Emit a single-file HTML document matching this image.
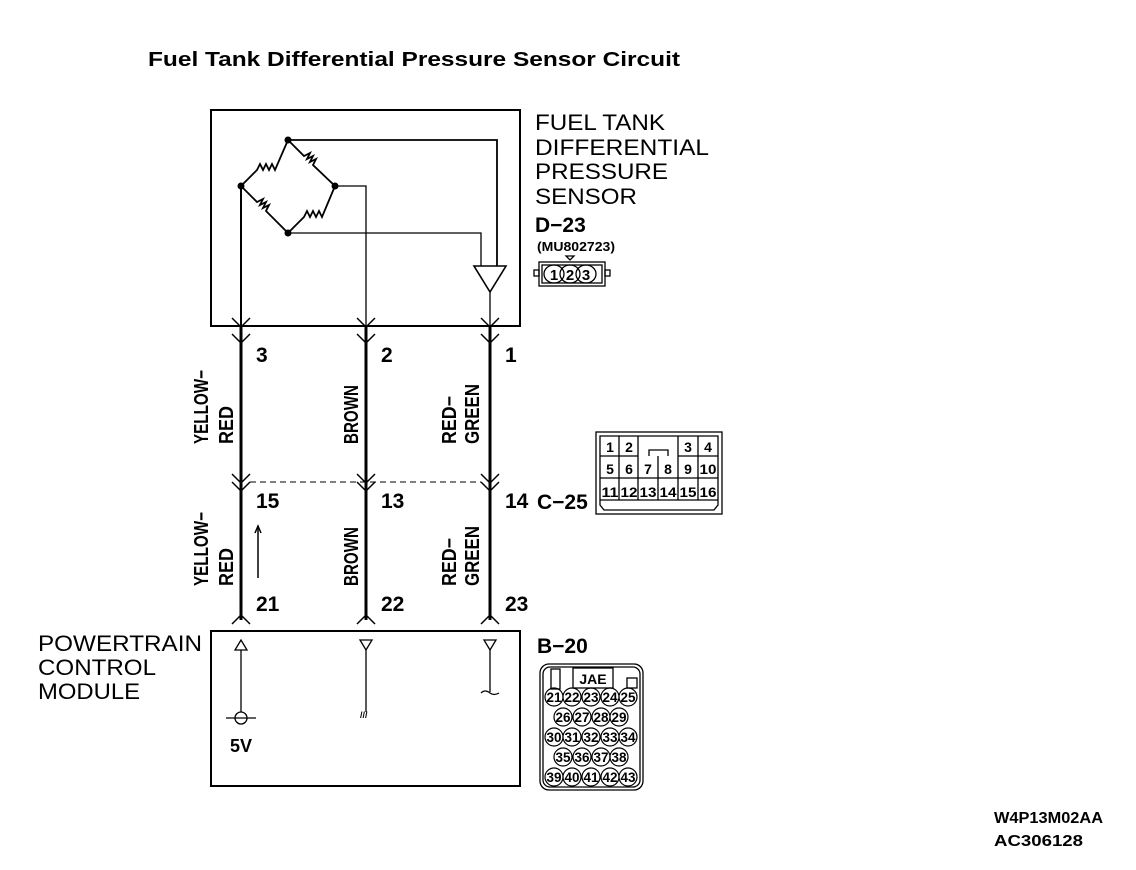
<!DOCTYPE html>
<html><head><meta charset="utf-8"><style>
html,body{margin:0;padding:0;background:#fff}
svg{display:block}
text{font-family:"Liberation Sans",sans-serif}
.b{font-weight:bold}
</style></head><body>
<svg width="1136" height="870" viewBox="0 0 1136 870" xmlns="http://www.w3.org/2000/svg">
<text x="148" y="66" class="b" font-size="20" textLength="532" lengthAdjust="spacingAndGlyphs">Fuel Tank Differential Pressure Sensor Circuit</text>

<rect x="211" y="110" width="309" height="216" fill="none" stroke="#000" stroke-width="2"/>
<g stroke="#000" stroke-width="1.8" fill="none">
<path d="M241,186 L257,170 l3,-6 l3,6 l3,-6 l3,6 l3,-6 l3,6 L288,140"/>
<path d="M288,140 L304,156 l6,-3 l-3,6 l6,-3 l-3,6 l6,-3 l-3,6 L335,186"/>
<path d="M241,186 L257,202 l6,-3 l-3,6 l6,-3 l-3,6 l6,-3 l-3,6 L288,233"/>
<path d="M288,233 L304,217 l3,-6 l3,6 l3,-6 l3,6 l3,-6 l3,6 L335,186"/>
</g>
<g stroke="#000" stroke-width="1.3" fill="none">
<path d="M288,140 H497 V266" stroke-width="1.8"/>
<path d="M335,186 H366 V326"/>
<path d="M288,233 H481 V266"/>
<path d="M474,266 H506 L490,292 Z" stroke-width="1.6"/>
<path d="M490,292 V326"/>
</g>
<g fill="#000"><circle cx="288" cy="140" r="3.5"/><circle cx="241" cy="186" r="3.5"/><circle cx="335" cy="186" r="3.5"/><circle cx="288" cy="233" r="3.5"/></g>
<path d="M241,186 V326" stroke="#000" stroke-width="2"/>

<g stroke="#000" stroke-width="3"><path d="M241,326 V620"/><path d="M366,326 V620"/><path d="M490,326 V620"/></g>
<g stroke="#000" stroke-width="1.5" fill="none">
<path d="M232,318 l9,9 l9,-9 M232,334 l9,9 l9,-9"/>
<path d="M357,318 l9,9 l9,-9 M357,334 l9,9 l9,-9"/>
<path d="M481,318 l9,9 l9,-9 M481,334 l9,9 l9,-9"/>
<path d="M232,474 l9,9 l9,-9 M232,482 l9,9 l9,-9"/>
<path d="M357,474 l9,9 l9,-9 M357,482 l9,9 l9,-9"/>
<path d="M481,474 l9,9 l9,-9 M481,482 l9,9 l9,-9"/>
<path d="M232,624 l9,-9 l9,9"/><path d="M357,624 l9,-9 l9,9"/><path d="M481,624 l9,-9 l9,9"/>
<path d="M250,482 H481" stroke-dasharray="6,4" stroke-width="1"/>
<path d="M258,578 V526"/><path d="M255,533 l3,-7 l3,7"/>
</g>

<g class="b" font-size="21">
<text x="256" y="362">3</text><text x="381" y="362">2</text><text x="505" y="362">1</text>
<text x="256" y="508">15</text><text x="381" y="508">13</text><text x="505" y="508">14</text>
<text x="256" y="611">21</text><text x="381" y="611">22</text><text x="505" y="611">23</text>
<text x="537" y="509">C−25</text>
<text x="537" y="653">B−20</text>
<text x="535" y="232">D−23</text>
</g>
<g class="b" font-size="20">
<text transform="translate(208,444) rotate(-90)" textLength="74" lengthAdjust="spacingAndGlyphs">YELLOW−</text>
<text transform="translate(233,444) rotate(-90)" textLength="38" lengthAdjust="spacingAndGlyphs">RED</text>
<text transform="translate(358,444) rotate(-90)" textLength="59" lengthAdjust="spacingAndGlyphs">BROWN</text>
<text transform="translate(456,444) rotate(-90)" textLength="48" lengthAdjust="spacingAndGlyphs">RED−</text>
<text transform="translate(479,444) rotate(-90)" textLength="60" lengthAdjust="spacingAndGlyphs">GREEN</text>
<text transform="translate(208,586) rotate(-90)" textLength="74" lengthAdjust="spacingAndGlyphs">YELLOW−</text>
<text transform="translate(233,586) rotate(-90)" textLength="38" lengthAdjust="spacingAndGlyphs">RED</text>
<text transform="translate(358,586) rotate(-90)" textLength="59" lengthAdjust="spacingAndGlyphs">BROWN</text>
<text transform="translate(456,586) rotate(-90)" textLength="48" lengthAdjust="spacingAndGlyphs">RED−</text>
<text transform="translate(479,586) rotate(-90)" textLength="60" lengthAdjust="spacingAndGlyphs">GREEN</text>
</g>

<g font-size="22">
<text x="535" y="130" textLength="130" lengthAdjust="spacingAndGlyphs">FUEL TANK</text>
<text x="535" y="155" textLength="174" lengthAdjust="spacingAndGlyphs">DIFFERENTIAL</text>
<text x="535" y="179" textLength="133" lengthAdjust="spacingAndGlyphs">PRESSURE</text>
<text x="535" y="204" textLength="102" lengthAdjust="spacingAndGlyphs">SENSOR</text>
</g>
<text x="537" y="251" class="b" font-size="13" textLength="78" lengthAdjust="spacingAndGlyphs">(MU802723)</text>
<g stroke="#000" fill="none" stroke-width="1.3">
<rect x="539" y="262" width="66" height="24"/><rect x="542" y="265" width="60" height="18"/>
<rect x="534" y="270" width="5" height="6"/><rect x="605" y="270" width="5" height="6"/>
<path d="M566,256 h8 l-4,4 z"/>
<ellipse cx="554" cy="274" rx="10" ry="9"/><ellipse cx="570" cy="274" rx="10" ry="9"/><ellipse cx="586" cy="274" rx="10" ry="9"/>
</g>
<g class="b" font-size="15" text-anchor="middle"><text x="554" y="280">1</text><text x="570" y="280">2</text><text x="586" y="280">3</text></g>

<g stroke="#000" fill="none" stroke-width="1.3">
<rect x="596" y="432" width="126" height="82"/>
<path d="M600,436 H718 V505 l-4,5 H604 l-4,-5 Z"/>
<path d="M600,456 H638 M678,456 H718 M600,478 H718 M600,500 H718"/>
<path d="M619,436 V500 M638,436 V500 M658,456 V500 M678,436 V500 M698,436 V500"/>
<path d="M649,456 V450 H668 V456"/>
</g>
<g class="b" font-size="14" text-anchor="middle">
<text x="610" y="452">1</text><text x="629" y="452">2</text><text x="688" y="452">3</text><text x="708" y="452">4</text>
<text x="610" y="474">5</text><text x="629" y="474">6</text><text x="648" y="474">7</text><text x="668" y="474">8</text><text x="688" y="474">9</text><text x="708" y="474" textLength="17" lengthAdjust="spacingAndGlyphs">10</text>
<text x="610" y="497" textLength="17" lengthAdjust="spacingAndGlyphs">11</text><text x="629" y="497" textLength="17" lengthAdjust="spacingAndGlyphs">12</text><text x="648" y="497" textLength="17" lengthAdjust="spacingAndGlyphs">13</text><text x="668" y="497" textLength="17" lengthAdjust="spacingAndGlyphs">14</text><text x="688" y="497" textLength="17" lengthAdjust="spacingAndGlyphs">15</text><text x="708" y="497" textLength="17" lengthAdjust="spacingAndGlyphs">16</text>
</g>

<rect x="211" y="631" width="309" height="155" fill="none" stroke="#000" stroke-width="2"/>
<g font-size="22">
<text x="38" y="651" textLength="164" lengthAdjust="spacingAndGlyphs">POWERTRAIN</text>
<text x="38" y="675" textLength="118" lengthAdjust="spacingAndGlyphs">CONTROL</text>
<text x="38" y="699" textLength="102" lengthAdjust="spacingAndGlyphs">MODULE</text>
</g>
<g stroke="#000" fill="none" stroke-width="1.3">
<path d="M235,650 l6,-10 l6,10 z"/><path d="M241,650 V712"/><circle cx="241" cy="718" r="6"/><path d="M226,718 H256"/>
<path d="M360,640 h12 l-6,10 z"/><path d="M366,650 V712"/>
<path d="M484,640 h12 l-6,10 z"/><path d="M490,650 V692"/><path d="M481,693 q4,-4 9,0 q4,3 9,0"/>
</g>
<text x="360" y="718" font-size="9" class="b">///</text>
<text x="230" y="752" class="b" font-size="18">5V</text>

<g stroke="#000" fill="none" stroke-width="1.3">
<rect x="540" y="664" width="103" height="126" rx="9"/><rect x="543" y="667" width="97" height="120" rx="7"/>
<rect x="551" y="669" width="9" height="20"/><rect x="573" y="668" width="40" height="20"/><rect x="627" y="678" width="10" height="10"/>
</g>
<g stroke="#000" fill="none" stroke-width="1.2">
<circle cx="554" cy="697" r="9"/><circle cx="572" cy="697" r="9"/><circle cx="591" cy="697" r="9"/><circle cx="610" cy="697" r="9"/><circle cx="628" cy="697" r="9"/>
<circle cx="563" cy="717" r="9"/><circle cx="582" cy="717" r="9"/><circle cx="601" cy="717" r="9"/><circle cx="619" cy="717" r="9"/>
<circle cx="554" cy="737" r="9"/><circle cx="572" cy="737" r="9"/><circle cx="591" cy="737" r="9"/><circle cx="610" cy="737" r="9"/><circle cx="628" cy="737" r="9"/>
<circle cx="563" cy="757" r="9"/><circle cx="582" cy="757" r="9"/><circle cx="601" cy="757" r="9"/><circle cx="619" cy="757" r="9"/>
<circle cx="554" cy="777" r="9"/><circle cx="572" cy="777" r="9"/><circle cx="591" cy="777" r="9"/><circle cx="610" cy="777" r="9"/><circle cx="628" cy="777" r="9"/>
</g>
<text x="593" y="684" class="b" font-size="14" text-anchor="middle">JAE</text>
<g class="b" font-size="14" text-anchor="middle">
<text x="554" y="702" textLength="15" lengthAdjust="spacingAndGlyphs">21</text><text x="572" y="702" textLength="15" lengthAdjust="spacingAndGlyphs">22</text><text x="591" y="702" textLength="15" lengthAdjust="spacingAndGlyphs">23</text><text x="610" y="702" textLength="15" lengthAdjust="spacingAndGlyphs">24</text><text x="628" y="702" textLength="15" lengthAdjust="spacingAndGlyphs">25</text>
<text x="563" y="722" textLength="15" lengthAdjust="spacingAndGlyphs">26</text><text x="582" y="722" textLength="15" lengthAdjust="spacingAndGlyphs">27</text><text x="601" y="722" textLength="15" lengthAdjust="spacingAndGlyphs">28</text><text x="619" y="722" textLength="15" lengthAdjust="spacingAndGlyphs">29</text>
<text x="554" y="742" textLength="15" lengthAdjust="spacingAndGlyphs">30</text><text x="572" y="742" textLength="15" lengthAdjust="spacingAndGlyphs">31</text><text x="591" y="742" textLength="15" lengthAdjust="spacingAndGlyphs">32</text><text x="610" y="742" textLength="15" lengthAdjust="spacingAndGlyphs">33</text><text x="628" y="742" textLength="15" lengthAdjust="spacingAndGlyphs">34</text>
<text x="563" y="762" textLength="15" lengthAdjust="spacingAndGlyphs">35</text><text x="582" y="762" textLength="15" lengthAdjust="spacingAndGlyphs">36</text><text x="601" y="762" textLength="15" lengthAdjust="spacingAndGlyphs">37</text><text x="619" y="762" textLength="15" lengthAdjust="spacingAndGlyphs">38</text>
<text x="554" y="782" textLength="15" lengthAdjust="spacingAndGlyphs">39</text><text x="572" y="782" textLength="15" lengthAdjust="spacingAndGlyphs">40</text><text x="591" y="782" textLength="15" lengthAdjust="spacingAndGlyphs">41</text><text x="610" y="782" textLength="15" lengthAdjust="spacingAndGlyphs">42</text><text x="628" y="782" textLength="15" lengthAdjust="spacingAndGlyphs">43</text>
</g>

<g class="b" font-size="16">
<text x="994" y="823" textLength="109" lengthAdjust="spacingAndGlyphs">W4P13M02AA</text>
<text x="994" y="846" textLength="89" lengthAdjust="spacingAndGlyphs">AC306128</text>
</g>
</svg>
</body></html>
